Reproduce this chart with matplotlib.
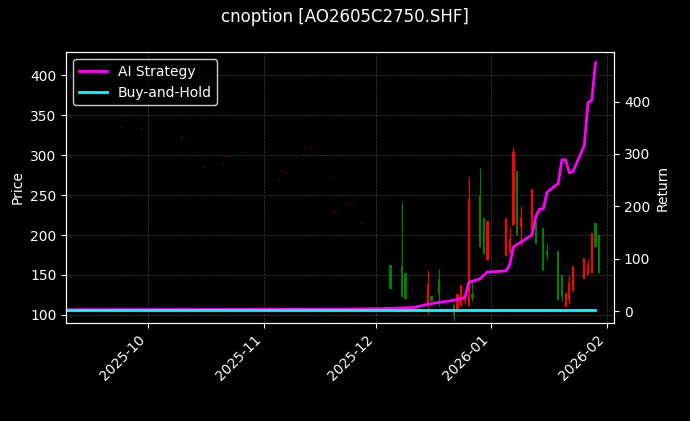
import matplotlib
matplotlib.use('Agg')
import matplotlib.pyplot as plt
import matplotlib.dates as mdates
import pandas as pd

plt.style.use('dark_background')

# daily bars: date, open, high, low, close
bar_dates = ['2025-09-12', '2025-09-23', '2025-09-24', '2025-09-26', '2025-09-29', '2025-09-30',
             '2025-10-10', '2025-10-14', '2025-10-15', '2025-10-16', '2025-10-21', '2025-10-22',
             '2025-10-23', '2025-10-27', '2025-10-29', '2025-10-30', '2025-11-03', '2025-11-05',
             '2025-11-06', '2025-11-07', '2025-11-10', '2025-11-12', '2025-11-13', '2025-11-14',
             '2025-11-17', '2025-11-19', '2025-11-20', '2025-11-21', '2025-11-24', '2025-11-25',
             '2025-11-27', '2025-11-28', '2025-12-01', '2025-12-02', '2025-12-04',
             '2025-12-05', '2025-12-08', '2025-12-09', '2025-12-11', '2025-12-15', '2025-12-16',
             '2025-12-18', '2025-12-19', '2025-12-22', '2025-12-23', '2025-12-24', '2025-12-25',
             '2025-12-26', '2025-12-27', '2025-12-29', '2025-12-30', '2025-12-31', '2026-01-05',
             '2026-01-06', '2026-01-07', '2026-01-08', '2026-01-09', '2026-01-12', '2026-01-13',
             '2026-01-15', '2026-01-16', '2026-01-19', '2026-01-20', '2026-01-21', '2026-01-22',
             '2026-01-23', '2026-01-26', '2026-01-27', '2026-01-28', '2026-01-29', '2026-01-30']
opens = [363, 364, 334, 364, 333, 326, 322, 303, 290, 284, 288, 298, 305, 303, 315, 320, 280, 269,
         279, 277, 297, 307, 316, 309, 299, 272, 229, 230, 238, 237, 214, 206, 211, 226, 190,
         163, 161, 152, 128, 111, 124, 145, 115, 113, 107, 111, 118, 111, 126, 249, 221, 169, 174,
         178, 213, 280, 210, 200, 217, 209, 180, 180, 150, 110, 120, 130, 145, 150, 152, 215, 200]
highs = [363, 364, 334, 364, 333, 326, 323, 303, 290, 284, 288, 298, 305, 303, 315, 320, 280, 269,
         279, 277, 297, 307, 316, 309, 299, 272, 229, 230, 238, 237, 214, 206, 211, 226, 190,
         163, 241, 152, 128, 156, 124, 158, 115, 115, 126, 137, 127, 273, 141, 284, 221, 217, 222,
         210, 310, 280, 236, 258, 217, 209, 190, 180, 150, 128, 150, 161, 171, 170, 202, 215, 200]
lows = [363, 364, 334, 364, 333, 326, 321, 303, 290, 284, 288, 298, 305, 303, 315, 320, 280, 269,
        279, 277, 297, 307, 316, 309, 299, 272, 229, 230, 238, 237, 214, 206, 211, 226, 190,
        133, 122, 120, 128, 101, 118, 111, 115, 93, 107, 111, 114, 111, 118, 185, 176, 169, 174,
        186, 213, 200, 186, 200, 189, 156, 169, 119, 118, 110, 114, 130, 145, 157, 152, 185, 152]
closes = [363, 364, 334, 364, 333, 326, 322, 303, 290, 284, 288, 298, 305, 303, 315, 320, 280, 269,
          279, 277, 297, 307, 316, 309, 299, 272, 229, 230, 238, 237, 214, 206, 211, 226, 190,
          133, 122, 120, 128, 139, 118, 126, 115, 100, 126, 137, 125, 245, 121, 185, 176, 217, 222,
          195, 304, 200, 222, 258, 189, 156, 175, 119, 122, 128, 140, 161, 171, 162, 202, 185, 152]

ret_dates = ['2025-09-09', '2025-10-15', '2025-11-20', '2025-12-01', '2025-12-04', '2025-12-08',
             '2025-12-11', '2025-12-14', '2025-12-17', '2025-12-21', '2025-12-24', '2025-12-25',
             '2025-12-26', '2025-12-28', '2025-12-29', '2025-12-31', '2026-01-05', '2026-01-06',
             '2026-01-07', '2026-01-09', '2026-01-12', '2026-01-13', '2026-01-14', '2026-01-15',
             '2026-01-16', '2026-01-19', '2026-01-20', '2026-01-21', '2026-01-22', '2026-01-23',
             '2026-01-26', '2026-01-27', '2026-01-28', '2026-01-29']
ai_return = [3, 3.5, 4, 5, 5.5, 6.5, 7, 12, 16, 20, 24, 27, 55, 60, 62, 75, 77, 89, 123, 132, 146,
             181, 195, 195, 227, 244, 289, 289, 264, 267, 316, 398, 402, 474]
bh_return = [2.5] * len(ret_dates)

d = pd.to_datetime(bar_dates)
rd = pd.to_datetime(ret_dates)

fig, ax = plt.subplots(figsize=(6.9, 4.21), dpi=100)
fig.patch.set_facecolor('black')
ax.set_facecolor('black')

for x, o, h, l, c in zip(d, opens, highs, lows, closes):
    col = 'red' if c > o else ('green' if c < o else 'darkred')
    if o == c == h == l:
        col = 'green' if x == pd.Timestamp('2025-10-10') else '#5a0000'
    ax.vlines(x, l, h, color=col, linewidth=0.8)
    ax.bar(x, max(abs(c - o), 0.8), bottom=min(o, c), width=0.6, color=col)

ax.set_ylim(90, 429)
ax.set_ylabel('Price')
ax.grid(True, color='gray', linestyle='--', linewidth=0.5, alpha=0.5)

ax2 = ax.twinx()
l1, = ax2.plot(rd, ai_return, color='magenta', linewidth=2, label='AI Strategy')
l2, = ax2.plot(rd, bh_return, color='cyan', linewidth=2, label='Buy-and-Hold')
ax2.set_ylim(-22, 494)
ax2.set_ylabel('Return')

ax.set_xlim(pd.Timestamp('2025-09-09'), pd.Timestamp('2026-02-03'))
ax.xaxis.set_major_locator(mdates.MonthLocator())
ax.xaxis.set_major_formatter(mdates.DateFormatter('%Y-%m'))
plt.setp(ax.get_xticklabels(), rotation=45, ha='right')

ax.legend(handles=[l1, l2], loc='upper left', facecolor='black', edgecolor='white')
fig.suptitle('cnoption [AO2605C2750.SHF]')
fig.subplots_adjust(left=0.096, right=0.89, top=0.876, bottom=0.233)
fig.savefig('out.png')
